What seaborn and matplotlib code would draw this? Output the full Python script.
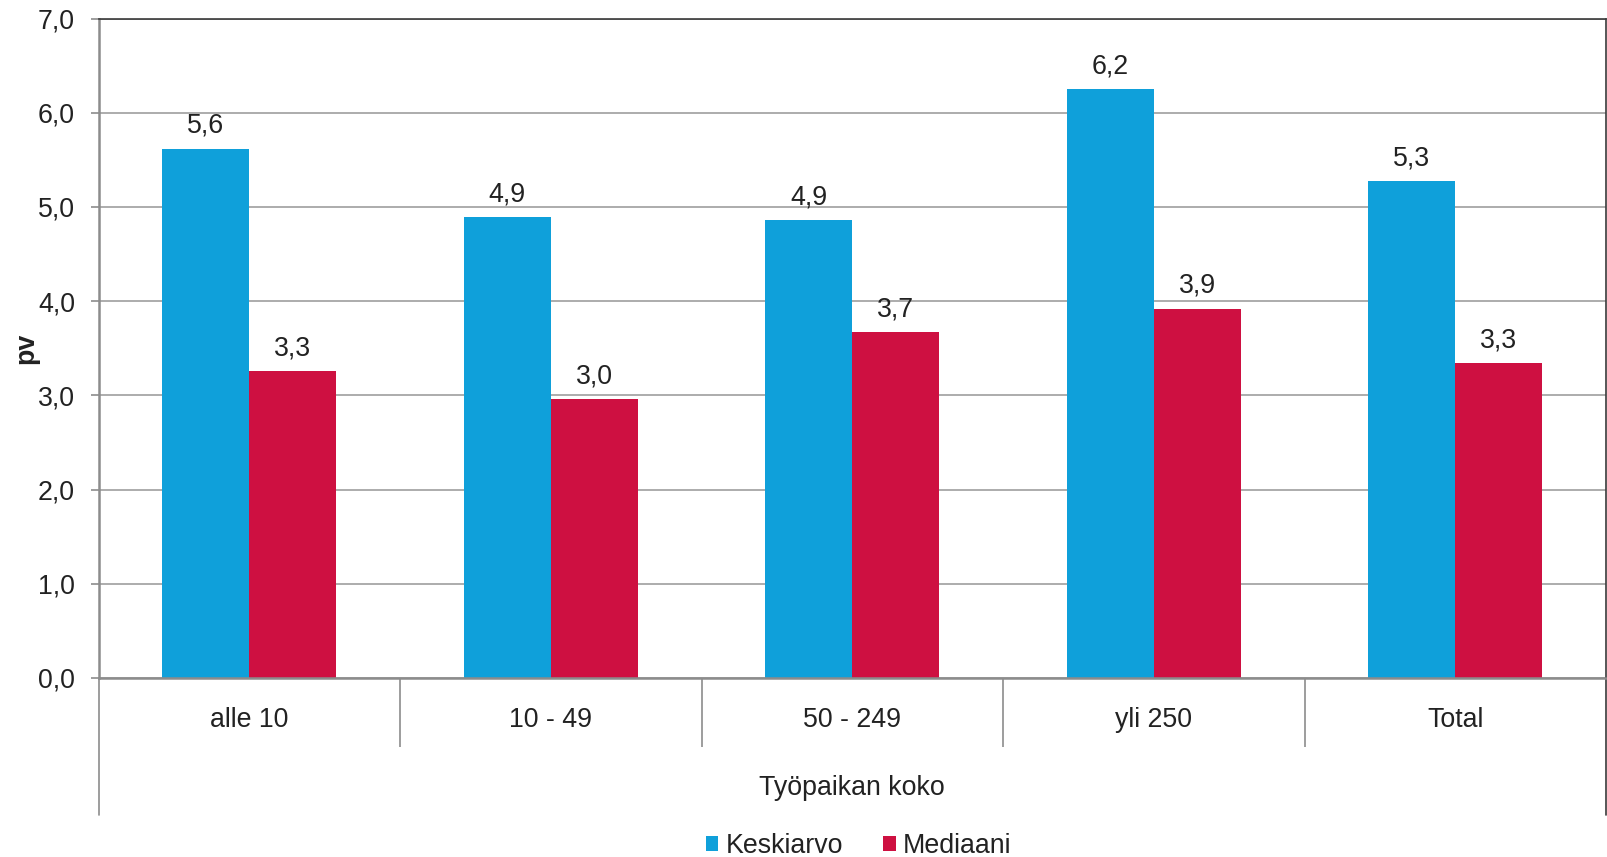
import numpy as np
import pandas as pd
import matplotlib
matplotlib.use("Agg")
import matplotlib.pyplot as plt
import seaborn as sns
from matplotlib.ticker import FixedLocator

categories = ["alle 10", "10 - 49", "50 - 249", "yli 250", "Total"]
keskiarvo = [5.62, 4.89, 4.86, 6.25, 5.27]
mediaani = [3.26, 2.96, 3.67, 3.92, 3.34]
series = ["Keskiarvo", "Mediaani"]
colors = ["#0FA0DA", "#CE1041"]
yticks = [0, 1, 2, 3, 4, 5, 6, 7]

df = pd.DataFrame({
    "koko": categories * 2,
    "sarja": [series[0]] * len(categories) + [series[1]] * len(categories),
    "pv": keskiarvo + mediaani,
})

sns.set_theme(style="white")
plt.rcParams["font.family"] = ["Liberation Sans", "DejaVu Sans"]

fs = 19.3
fig = plt.figure(figsize=(16.08, 8.57), dpi=100)
ax = fig.add_axes([0.06126, 0.20887, 0.9375, 0.76954])

sns.barplot(data=df, x="koko", y="pv", hue="sarja", hue_order=series,
            palette=colors, width=0.577, saturation=1, linewidth=0, ax=ax)

# value labels, finnish decimal comma
for cont, vals in zip(ax.containers, [keskiarvo, mediaani]):
    ax.bar_label(cont, labels=[f"{v:.1f}".replace(".", ",") for v in vals],
                 padding=7, fontsize=fs, color="#222222")

ax.set_ylim(0, 7)
ax.set_xlim(-0.5, len(categories) - 0.5)
ax.set_yticks(yticks)
ax.set_yticklabels([f"{t:.1f}".replace(".", ",") for t in yticks])

ax.yaxis.grid(True, color="#a6a6a6", linewidth=1.3)
ax.set_axisbelow(True)

# category separators as long minor ticks
ax.xaxis.set_minor_locator(FixedLocator([0.5, 1.5, 2.5, 3.5]))
ax.tick_params(axis="x", which="minor", bottom=True, length=50, width=1.2,
               color="#8c8c8c", direction="out")
ax.tick_params(axis="x", which="major", bottom=True, length=0, pad=21,
               labelsize=fs, labelcolor="#222222")
ax.tick_params(axis="y", which="major", left=True, length=6, width=1.2,
               color="#8c8c8c", pad=11, labelsize=fs, labelcolor="#222222")

for side in ["left", "bottom"]:
    ax.spines[side].set_color("#8c8c8c")
    ax.spines[side].set_linewidth(1.8)
for side in ["top", "right"]:
    ax.spines[side].set_color("#3a3a3a")
    ax.spines[side].set_linewidth(1.2)

# outer frame of the category axis
ax.plot([0, 0], [0, -0.2077], transform=ax.transAxes, clip_on=False,
        color="#8c8c8c", linewidth=1.2)
ax.plot([1, 1], [0, -0.2077], transform=ax.transAxes, clip_on=False,
        color="#3a3a3a", linewidth=1.2)

ax.set_xlabel("Työpaikan koko", fontsize=fs, color="#222222")
ax.xaxis.label.set_va("center")
ax.xaxis.set_label_coords(0.5, -0.1668)
ax.set_ylabel("pv", fontsize=fs, fontweight="bold", color="#222222")
ax.yaxis.label.set_va("center")
ax.yaxis.set_label_coords(-0.048, 0.5)

handles, labels = ax.get_legend_handles_labels()
ax.legend(handles, labels, loc="center", bbox_to_anchor=(0.534, 0.013),
          bbox_transform=fig.transFigure, ncol=2, frameon=False,
          fontsize=fs, handlelength=0.47, handleheight=0.47,
          handletextpad=0.27, columnspacing=1.5, labelcolor="#222222")

fig.savefig("out.png", dpi=100)
